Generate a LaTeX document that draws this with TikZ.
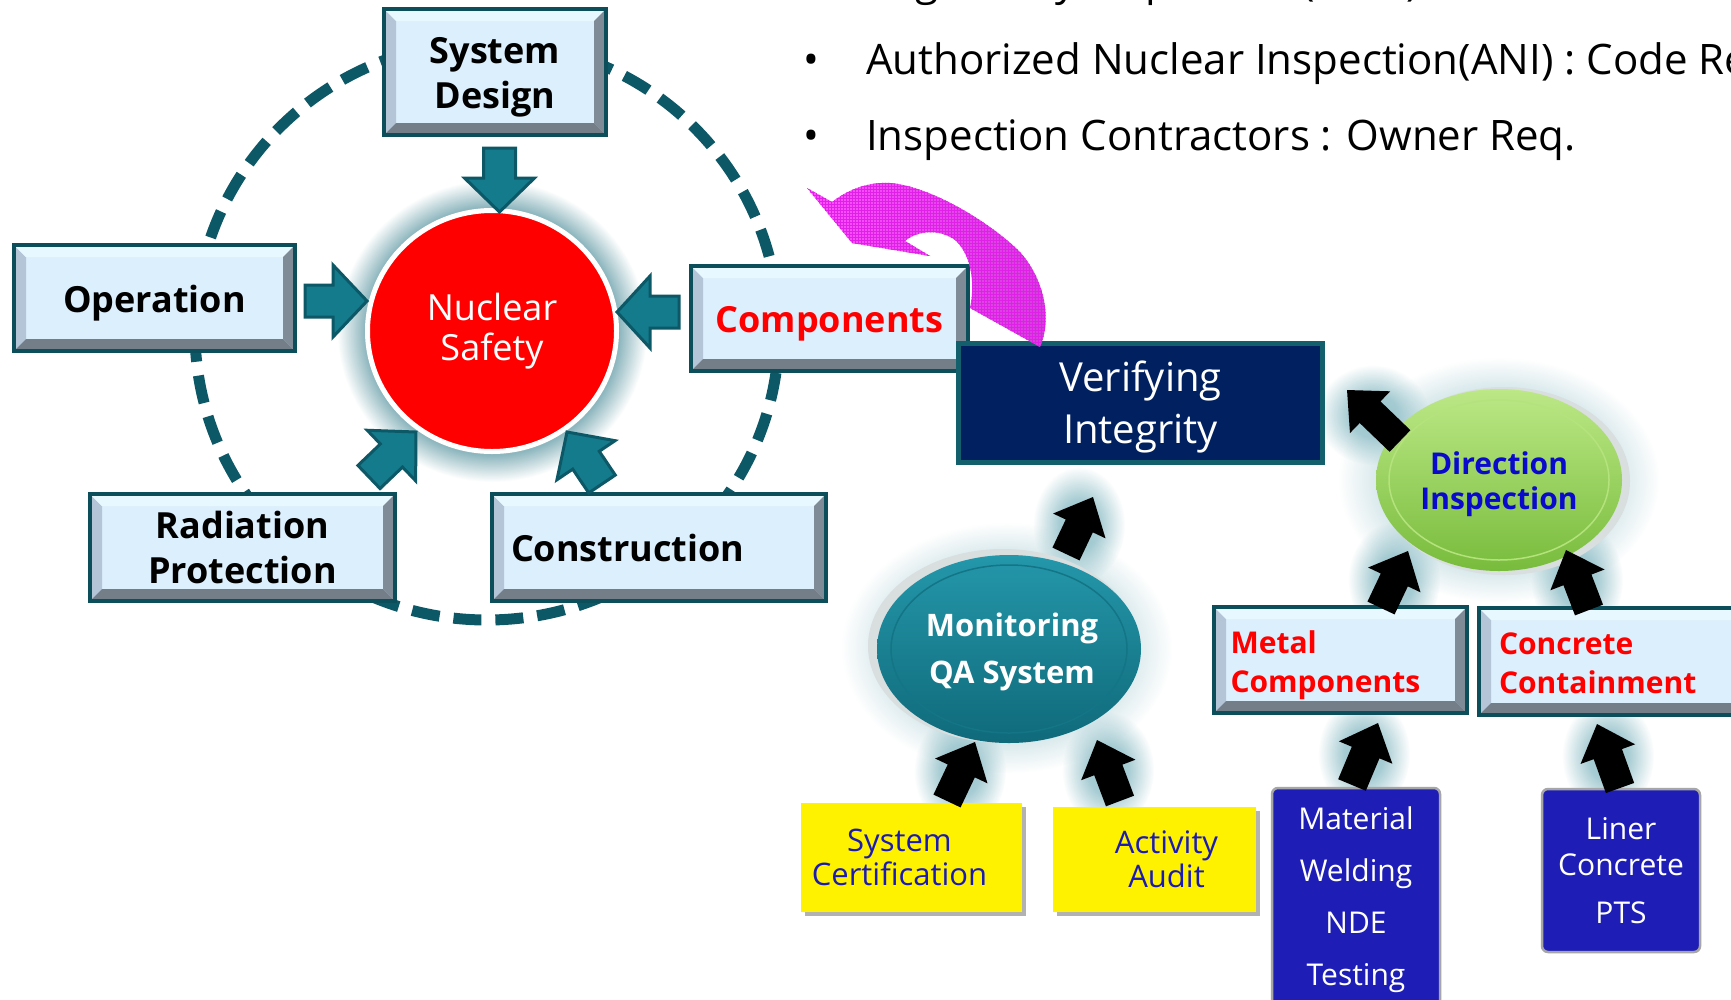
\documentclass[tikz,border=0pt]{standalone}
\usepackage{fontspec}
\setmainfont{Open Sans}
\usetikzlibrary{shapes.geometric,fadings,patterns,shadows,calc}

\definecolor{frameC}{HTML}{0C4E5A}
\definecolor{boxfill}{HTML}{DCEFFC}
\definecolor{bevL}{HTML}{B3C5D7}
\definecolor{bevT}{HTML}{E8F8FF}
\definecolor{bevR}{HTML}{7F8C98}
\definecolor{bevB}{HTML}{737E89}
\definecolor{tealA}{HTML}{147B8C}
\definecolor{tealD}{HTML}{0D5866}
\definecolor{glowC}{HTML}{8DB6BE}
\definecolor{aglow}{HTML}{98C4CC}
\definecolor{navy}{HTML}{002060}
\definecolor{vborder}{HTML}{135F6B}
\definecolor{greenT}{HTML}{BCE886}
\definecolor{greenB}{HTML}{78BC3C}
\definecolor{greenL}{HTML}{B4E27C}
\definecolor{dirblue}{HTML}{0A0ACC}
\definecolor{monL}{HTML}{2497AA}
\definecolor{monD}{HTML}{0F6A7A}
\definecolor{monRing}{HTML}{137585}
\definecolor{rimgray}{HTML}{D9DEDF}
\definecolor{boxblue}{HTML}{1E1EB6}
\definecolor{certblue}{HTML}{1A1AB4}
\definecolor{txtred}{HTML}{FF0000}
\definecolor{pinkL}{HTML}{FF50FF}
\definecolor{pinkR}{HTML}{D040D8}
\definecolor{pinkG}{HTML}{E020E8}

\pgfdeclareradialshading{ringglow}{\pgfpointorigin}{color(0bp)=(glowC); color(20.5bp)=(glowC); color(25bp)=(white); color(50bp)=(white)}
\pgfdeclareradialshading{softmask}{\pgfpointorigin}{color(0bp)=(transparent!0); color(11bp)=(transparent!15); color(25bp)=(transparent!100); color(50bp)=(transparent!100)}
\pgfdeclarefading{softout}{\pgfuseshading{softmask}}

\newdimen\baXd \newdimen\baYd \newdimen\bbXd \newdimen\bbYd
\newcommand\blockarrow[6]{%
  \pgfextractx{\baXd}{\pgfpointanchor{#2}{center}}%
  \pgfextracty{\baYd}{\pgfpointanchor{#2}{center}}%
  \pgfextractx{\bbXd}{\pgfpointanchor{#3}{center}}%
  \pgfextracty{\bbYd}{\pgfpointanchor{#3}{center}}%
  \pgfmathsetmacro\baAng{atan2(\bbYd-\baYd,\bbXd-\baXd)}%
  \pgfmathsetmacro\baLen{veclen(\bbXd-\baXd,\bbYd-\baYd)}%
  \pgfmathsetmacro\baNeck{\baLen-#6}%
  \edef\baXs{\the\baXd}\edef\baYs{\the\baYd}%
  \begin{scope}[shift={(\baXs,\baYs)},rotate=\baAng]
    \filldraw[#1] (0,-#4) -- (\baNeck,-#4) -- (\baNeck,-#5) -- (\baLen,0) -- (\baNeck,#5) -- (\baNeck,#4) -- (0,#4) -- cycle;
  \end{scope}}

\begin{document}
\begin{tikzpicture}[x=1pt,y=-1pt,
  txt/.style={inner sep=0pt, font=\fontsize{42}{50}\selectfont},
  bevbox/.style={rectangle, draw=frameC, line width=4pt, fill=boxfill, inner sep=0pt, align=center,
     font=\bfseries\fontsize{36}{45}\selectfont,
     path picture={
       \fill[bevL] (path picture bounding box.south west) -- (path picture bounding box.north west) -- ++(12pt,-12pt) -- ($(path picture bounding box.south west)+(12pt,12pt)$) -- cycle;
       \fill[bevT] (path picture bounding box.north west) -- (path picture bounding box.north east) -- ++(-12pt,-12pt) -- ($(path picture bounding box.north west)+(12pt,-12pt)$) -- cycle;
       \fill[bevR] (path picture bounding box.north east) -- (path picture bounding box.south east) -- ++(-12pt,12pt) -- ($(path picture bounding box.north east)+(-12pt,-12pt)$) -- cycle;
       \fill[bevB] (path picture bounding box.south west) -- (path picture bounding box.south east) -- ++(-12pt,12pt) -- ($(path picture bounding box.south west)+(12pt,12pt)$) -- cycle;
     }},
  boxlbl/.style={inner sep=0pt, align=center, font=\bfseries\fontsize{36}{45}\selectfont},
  tarrow/.style={fill=tealA, draw=tealD, line width=3pt, line join=miter},
  barrow/.style={fill=black, draw=none},
  ybox/.style={rectangle, fill=yellow, inner sep=0pt,
     drop shadow={shadow xshift=4pt, shadow yshift=-4pt, fill=black!30, opacity=1}},
  ylbl/.style={inner sep=0pt, align=center, text=certblue, font=\fontsize{31}{34}\selectfont},
  bbox/.style={rectangle, rounded corners=6pt, fill=boxblue, draw=black!35, line width=2.5pt,
     inner sep=0pt, align=center, text=white, font=\fontsize{30}{52}\selectfont},
  glowblob/.style={fill=aglow, path fading=softout}]

\useasboundingbox (0,0) rectangle (1731,999);
\fill[white] (0,0) rectangle (1731,999);

% ---- bullet texts
\node[txt, anchor=base west] (t0) at (866,-5) {Regulatory Inspection (KINS)};
\node[txt, anchor=base] (b1) at (811,74) {•};
\node[txt, anchor=base west] (t1) at (866,74) {Authorized Nuclear Inspection(ANI) : Code Req.};
\node[txt, anchor=base] (b2) at (811,150) {•};
\node[txt, anchor=base west] (t2) at (866,150) {Inspection Contractors : Owner Req.};

% ---- dashed ring
\draw[tealD, line width=11pt, dash pattern=on 28pt off 14pt] (487,331) ellipse (292 and 289);

% ---- glows
\shade[shading=ringglow] (492,331) ellipse (155 and 151);
\fill[glowblob] (1079,525) ellipse (46 and 58);
\fill[glowblob] (1373,415) ellipse (56 and 50);
\fill[glowblob] (1394,580) ellipse (46 and 58);
\fill[glowblob] (1577,580) ellipse (46 and 58);
\fill[glowblob] (960,771) ellipse (46 and 58);
\fill[glowblob] (1108,770) ellipse (46 and 58);
\fill[glowblob] (1364,754) ellipse (46 and 58);
\fill[glowblob] (1608,756) ellipse (46 and 58);
\fill[glowblob] (1499,480) ellipse (160 and 122);
\fill[glowblob] (1007,648) ellipse (165 and 125);

% ---- nuclear safety
\node[ellipse, fill=red, draw=white, line width=5pt, minimum width=249, minimum height=241,
      inner sep=0pt, align=center, text=white, font=\fontsize{36}{40}\selectfont] (ns) at (492,331) {Nuclear\\Safety};

% ---- left boxes
\node[bevbox, minimum width=222, minimum height=126,
      label={[boxlbl, yshift=-5pt]center:System\\Design}] (sd) at (495,72) {};
\node[bevbox, minimum width=281, minimum height=106,
      label={[boxlbl, yshift=-5pt]center:Operation}] (op) at (154.5,298) {};
\node[bevbox, minimum width=277, minimum height=105,
      label={[boxlbl, text=txtred, yshift=-5pt]center:Components}] (co) at (829.5,318.5) {};
\node[bevbox, minimum width=305, minimum height=107] (rp) at (242.5,547.5) {Radiation\\Protection};
\node[bevbox, minimum width=334, minimum height=107, text width=296, align=left] (cn) at (659,547.5) {Construction};

% ---- verifying integrity
\node[rectangle, fill=navy, draw=vborder, line width=5pt, minimum width=364, minimum height=119,
      inner sep=0pt, label={[inner sep=0pt, align=center, text=white, font=\fontsize{40}{52}\selectfont, yshift=-4pt]center:Verifying\\Integrity}]
      (vi) at (1140.5,403) {};

% ---- direction inspection
\fill[rimgray] (1504,481) ellipse (126 and 94);
\node[ellipse, inner sep=0pt, minimum width=246, minimum height=182, top color=greenT, bottom color=greenB,
      path picture={\draw[greenL, line width=1.5pt] (path picture bounding box.center) ellipse (110pt and 80pt);},
      label={[inner sep=0pt, align=center, text=dirblue, font=\bfseries\fontsize{30}{35}\selectfont, yshift=-4pt]center:Direction\\Inspection}]
      (di) at (1499,480) {};

% ---- monitoring QA
\fill[rimgray] (1003,646) ellipse (135 and 97);
\node[ellipse, inner sep=0pt, minimum width=264, minimum height=188, top color=monL, bottom color=monD,
      path picture={\draw[monRing, line width=1.5pt] (path picture bounding box.center) ellipse (118pt and 84pt);},
      label={[inner sep=0pt, align=center, text=white, font=\bfseries\fontsize{31}{47}\selectfont, yshift=-3pt, xshift=3pt]center:Monitoring\\QA System}]
      (mq) at (1009,649) {};

% ---- right boxes
\node[bevbox, minimum width=253, minimum height=106,
      label={[boxlbl, text width=220, align=left, text=txtred, font=\bfseries\fontsize{30}{39}\selectfont, yshift=-5pt]center:Metal\\Components}]
      (mc) at (1340.5,660) {};
\node[bevbox, minimum width=264, minimum height=107,
      label={[boxlbl, text width=224, align=left, text=txtred, font=\bfseries\fontsize{30}{39}\selectfont, yshift=-2pt]center:Concrete\\Containment}]
      (cc) at (1611,661.5) {};

\node[ybox, minimum width=221, minimum height=109,
      label={[ylbl, xshift=-12pt]center:System\\Certification}] (sc) at (911.5,857.5) {};
\node[ybox, minimum width=203, minimum height=105,
      label={[ylbl, xshift=12pt]center:Activity\\Audit}] (aa) at (1154.5,859.5) {};

\node[bbox, minimum width=168, minimum height=224] (mw) at (1356,900) {Material\\Welding\\NDE\\Testing};
\node[bbox, minimum width=158, minimum height=163, font=\fontsize{30}{36}\selectfont] (lc) at (1621,870.5) {Liner\\Concrete\\[12pt]PTS};

% ---- arrow end points
\coordinate (a1s) at (499.5,148); \coordinate (a1e) at (499.5,212);
\coordinate (a2s) at (305,301);   \coordinate (a2e) at (367,301);
\coordinate (a3s) at (679,312);   \coordinate (a3e) at (617,312);
\coordinate (a4s) at (369,477);   \coordinate (a4e) at (416,432);
\coordinate (a5s) at (602,484);   \coordinate (a5e) at (567,432);

\coordinate (k1s) at (1066,554); \coordinate (k1e) at (1093,497);
\coordinate (k2s) at (1400,441); \coordinate (k2e) at (1347,390);
\coordinate (k3s) at (1381,608); \coordinate (k3e) at (1408,551);
\coordinate (k4s) at (1589,610); \coordinate (k4e) at (1566,550);
\coordinate (k5s) at (947,801);  \coordinate (k5e) at (975,742);
\coordinate (k6s) at (1120,801); \coordinate (k6e) at (1097,740);
\coordinate (k7s) at (1352,785); \coordinate (k7e) at (1378,723);
\coordinate (k8s) at (1620,788); \coordinate (k8e) at (1597,724);

\blockarrow{tarrow}{a1s}{a1e}{16}{35}{34}
\blockarrow{tarrow}{a2s}{a2e}{16}{36}{34}
\blockarrow{tarrow}{a3s}{a3e}{16}{36}{33}
\blockarrow{tarrow}{a4s}{a4e}{16}{35}{34}
\blockarrow{tarrow}{a5s}{a5e}{16}{35}{34}

\blockarrow{barrow}{k1s}{k1e}{15}{29}{32}
\blockarrow{barrow}{k2s}{k2e}{15}{29}{32}
\blockarrow{barrow}{k3s}{k3e}{15}{29}{32}
\blockarrow{barrow}{k4s}{k4e}{15}{29}{32}
\blockarrow{barrow}{k5s}{k5e}{15}{29}{32}
\blockarrow{barrow}{k6s}{k6e}{15}{29}{32}
\blockarrow{barrow}{k7s}{k7e}{15}{29}{32}
\blockarrow{barrow}{k8s}{k8e}{15}{29}{32}

% ---- pink curved arrow (Verifying Integrity -> Components)
\path[left color=pinkL, right color=pinkR,
      postaction={pattern=grid, pattern color=pinkG}]
  (807,188) -- (832,202) .. controls (850,188) and (870,182) .. (890,183)
  .. controls (930,186) and (990,222) .. (1020,252)
  .. controls (1045,280) and (1052,320) .. (1040,347)
  -- (970,308) .. controls (975,285) and (972,255) .. (955,240)
  .. controls (940,229) and (918,230) .. (905,241)
  -- (930,256) -- (852,243) -- cycle;
\end{tikzpicture}
\end{document}
